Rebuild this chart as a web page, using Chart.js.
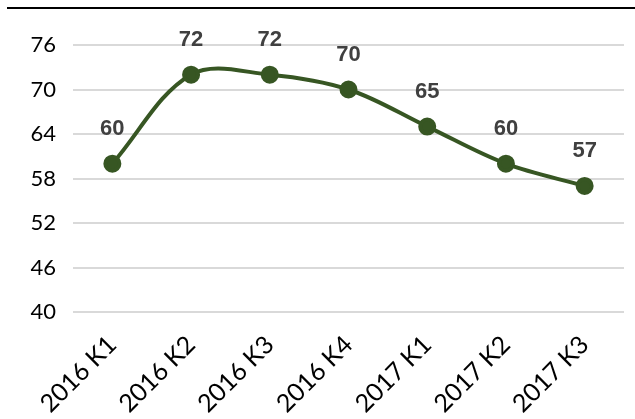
<!DOCTYPE html>
<html>
<head>
<meta charset="utf-8">
<script src="https://cdn.jsdelivr.net/npm/chart.js@4"></script>
<style>
  html, body { margin: 0; padding: 0; background: #fff; }
  #wrap { position: relative; width: 635px; height: 419px; }
  #topline { position: absolute; left: 7px; right: 0; top: 7px; border-top: 2px solid #000; }
</style>
</head>
<body>
<div id="wrap">
  <div id="topline"></div>
  <canvas id="chart" width="635" height="419"></canvas>
</div>
<script>
// quarters and values
const quarters = ['2016 K1', '2016 K2', '2016 K3', '2016 K4', '2017 K1', '2017 K2', '2017 K3'];
const values = [60, 72, 72, 70, 65, 60, 57];
const yTicks = [40, 46, 52, 58, 64, 70, 76];

const LINE_COLOR = '#375623';
const FONT = 'Lato, "Open Sans", sans-serif';

// value labels above each point
const valueLabels = {
  id: 'valueLabels',
  afterDatasetsDraw(chart){
    const ctx = chart.ctx;
    const meta = chart.getDatasetMeta(0);
    ctx.save();
    ctx.font = 'bold 22px "Liberation Sans", sans-serif';
    ctx.fillStyle = '#404040';
    ctx.textAlign = 'center';
    ctx.textBaseline = 'middle';
    meta.data.forEach((pt, i) => {
      ctx.fillText(String(values[i]), pt.x, pt.y - 35);
    });
    ctx.restore();
  }
};

new Chart(document.getElementById('chart'), {
  type: 'line',
  data: {
    labels: quarters,
    datasets: [{
      data: values,
      borderColor: LINE_COLOR,
      backgroundColor: LINE_COLOR,
      borderWidth: 4,
      pointRadius: 7,
      pointHoverRadius: 7,
      tension: 0.35,
      clip: false
    }]
  },
  options: {
    responsive: false,
    animation: false,
    layout: {padding: {top: 45, right: 2, left: 0, bottom: 0}},
    plugins: {legend: {display: false}, tooltip: {enabled: false}},
    scales: {
      x: {
        offset: true,
        grid: {display: false},
        border: {display: false},
        afterFit(scale){ scale.height = 107; },
        ticks: {
          color: '#000',
          font: {family: FONT, size: 25},
          minRotation: 45,
          maxRotation: 45,
          padding: 10
        }
      },
      y: {
        min: 40,
        max: 76,
        afterBuildTicks(scale){ scale.ticks = yTicks.map(v => ({value: v})); },
        afterFit(scale){ scale.width = 73; },
        grid: {color: '#d9d9d9', lineWidth: 2, drawTicks: false},
        border: {display: false},
        ticks: {
          color: '#000',
          font: {family: FONT, size: 22},
          padding: 17
        }
      }
    }
  },
  plugins: [valueLabels]
});
</script>
</body>
</html>
